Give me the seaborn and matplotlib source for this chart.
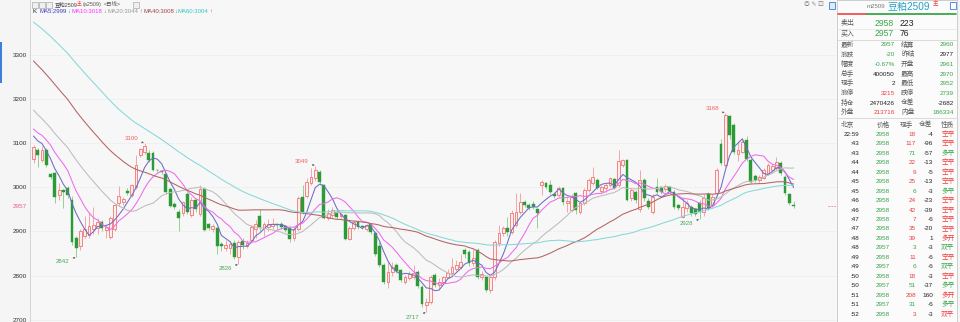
import numpy as np
import pandas as pd
import matplotlib
matplotlib.use("Agg")
import matplotlib.pyplot as plt
import matplotlib.transforms as mtransforms
from matplotlib.patches import Rectangle
from matplotlib.lines import Line2D
import seaborn as sns

# ---------------- data ----------------
# closes of the 59 sessions before the visible window (they feed the moving averages)
prior_closes = [
    3530, 3545, 3560, 3540, 3555, 3570, 3548, 3562, 3575, 3552,
    3540, 3565, 3558, 3536, 3548, 3560, 3542, 3530, 3545, 3539,
    3480, 3475, 3478, 3462, 3450, 3448, 3436, 3425, 3410, 3408,
    3395, 3380, 3372, 3360, 3348, 3355, 3330, 3322, 3310, 3296,
    3285, 3270, 3252, 3240, 3226, 3210, 3198, 3190, 3172, 3137,
    3160, 3142, 3155, 3138, 3145, 3128, 3115, 3130, 3115]

opens = [
    3065, 3084, 3062, 3084, 3029, 3032, 2983, 2993, 2998, 2972,
    2885, 2866, 2890, 2893, 2905, 2907, 2922, 2903, 2888, 2905,
    2965, 2967, 2992, 2982, 3001, 3073, 3080, 3077, 3078, 3040,
    3036, 3030, 2995, 2962, 2945, 2941, 2985, 2937, 2971, 2940,
    2997, 2917, 2905, 2907, 2872, 2862, 2863, 2873, 2843, 2878,
    2868, 2880, 2905, 2934, 2907, 2910, 2912, 2918, 2918, 2912,
    2907, 2885, 2905, 2978, 2980, 3009, 3020, 3035, 3005, 2930,
    2937, 2945, 2935, 2937, 2884, 2907, 2922, 2912, 2906, 2917,
    2896, 2868, 2824, 2785, 2808, 2824, 2813, 2786, 2795, 2797,
    2809, 2775, 2733, 2740, 2801, 2778, 2786, 2798, 2805, 2816,
    2820, 2858, 2854, 2828, 2858, 2797, 2797, 2767, 2797, 2873,
    2896, 2908, 2899, 2915, 2945, 2967, 2960, 2963, 2950, 3005,
    3009, 3005, 2984, 2982, 2998, 2965, 2948, 2986, 2945, 2964,
    2994, 3009, 3016, 2992, 2998, 3005, 3018, 3005, 3050, 3062,
    2975, 2990, 2950, 3016, 2970, 2945, 3001, 3000, 2995, 3000,
    2990, 2960, 2933, 2952, 2956, 2950, 2965, 2945, 2984, 2960,
    2986, 3099, 3050, 3161, 3140, 3075, 3081, 3107, 3062, 3025,
    3016, 3022, 3032, 3040, 3043, 3056, 3024, 2985, 2961]

closes = [
    3092, 3073, 3084, 3050, 3023, 2979, 2993, 2989, 2982, 2877,
    2862, 2900, 2905, 2913, 2915, 2922, 2908, 2910, 2930, 2960,
    2980, 2973, 2988, 3005, 3050, 3086, 3093, 3062, 3040, 3038,
    3034, 2990, 2958, 2956, 2930, 2967, 2945, 2971, 2950, 2997,
    2903, 2907, 2912, 2866, 2867, 2869, 2872, 2843, 2877, 2870,
    2873, 2911, 2918, 2911, 2917, 2918, 2917, 2914, 2910, 2903,
    2882, 2905, 2975, 2945, 3013, 3024, 3040, 3013, 2930, 2941,
    2948, 2933, 2940, 2884, 2907, 2922, 2911, 2910, 2914, 2899,
    2850, 2824, 2786, 2808, 2820, 2810, 2790, 2798, 2803, 2805,
    2777, 2735, 2741, 2797, 2779, 2785, 2797, 2806, 2820, 2824,
    2831, 2850, 2828, 2840, 2797, 2803, 2767, 2797, 2875, 2896,
    2907, 2899, 2941, 2945, 2967, 2960, 2952, 2956, 2941, 3013,
    3000, 2990, 2981, 2998, 2967, 2970, 2979, 2949, 2964, 2994,
    3016, 3024, 2998, 3001, 3005, 3020, 2998, 3060, 3062, 2971,
    2994, 2971, 3016, 2975, 2955, 2979, 2990, 2990, 3003, 2992,
    2956, 2952, 2956, 2965, 2941, 2940, 2945, 2975, 2952, 2979,
    3039, 3054, 3164, 3118, 3080, 3084, 3103, 3064, 3013, 3016,
    3024, 3040, 3050, 3048, 3058, 3032, 2986, 2964, 2957]

highs = [
    3096, 3088, 3093, 3090, 3032, 3035, 3010, 2996, 3002, 2980,
    2890, 2905, 2935, 2945, 2955, 2930, 2925, 2915, 2935, 2962,
    3003, 2978, 2998, 3008, 3073, 3090, 3100, 3085, 3082, 3042,
    3040, 3033, 2998, 2966, 2950, 2970, 2990, 2978, 2975, 3006,
    3000, 2920, 2918, 2910, 2877, 2880, 2878, 2880, 2880, 2885,
    2880, 2915, 2925, 2950, 2922, 2928, 2930, 2920, 2922, 2915,
    2910, 2910, 2980, 3005, 3020, 3043, 3049, 3040, 3008, 2950,
    2955, 2950, 2945, 2940, 2912, 2926, 2925, 2915, 2918, 2920,
    2900, 2875, 2828, 2830, 2830, 2828, 2816, 2802, 2810, 2825,
    2812, 2778, 2750, 2802, 2806, 2795, 2800, 2815, 2840, 2835,
    2850, 2862, 2858, 2860, 2862, 2810, 2800, 2800, 2880, 2915,
    2912, 2933, 2948, 2986, 2986, 2972, 2964, 2970, 2954, 3017,
    3012, 3016, 2990, 3002, 3001, 2975, 2984, 2990, 2966, 2998,
    3020, 3047, 3020, 3005, 3010, 3023, 3020, 3084, 3064, 3064,
    2998, 2994, 3039, 3020, 2975, 2985, 3020, 3003, 3008, 3003,
    2994, 2962, 2977, 2971, 2960, 2953, 2971, 2985, 2990, 2985,
    3043, 3110, 3168, 3163, 3145, 3105, 3108, 3115, 3066, 3030,
    3028, 3044, 3055, 3052, 3068, 3060, 3028, 2988, 2970]

lows = [
    3054, 3045, 3058, 3045, 3018, 2965, 2971, 2952, 2975, 2870,
    2842, 2858, 2885, 2885, 2895, 2895, 2900, 2885, 2882, 2900,
    2958, 2960, 2982, 2978, 2996, 3068, 3075, 3058, 3036, 3035,
    3030, 2985, 2955, 2950, 2900, 2935, 2940, 2933, 2945, 2935,
    2900, 2903, 2898, 2850, 2855, 2855, 2850, 2838, 2826, 2860,
    2862, 2875, 2885, 2900, 2890, 2900, 2905, 2905, 2905, 2898,
    2877, 2878, 2900, 2940, 2975, 3005, 3015, 3005, 2928, 2925,
    2930, 2928, 2928, 2880, 2880, 2903, 2905, 2905, 2900, 2895,
    2845, 2820, 2780, 2772, 2800, 2805, 2785, 2780, 2790, 2792,
    2772, 2728, 2717, 2735, 2775, 2770, 2780, 2795, 2800, 2810,
    2815, 2840, 2822, 2822, 2792, 2790, 2762, 2760, 2790, 2868,
    2890, 2890, 2895, 2910, 2940, 2955, 2948, 2950, 2907, 2982,
    2995, 2985, 2975, 2978, 2960, 2945, 2945, 2940, 2940, 2960,
    2990, 3005, 2995, 2988, 2990, 3000, 2995, 3000, 3045, 2968,
    2970, 2965, 2945, 2970, 2950, 2940, 2985, 2985, 2990, 2985,
    2950, 2948, 2930, 2945, 2935, 2935, 2928, 2935, 2948, 2955,
    2980, 3050, 3045, 3110, 3075, 3060, 3078, 3060, 3010, 3012,
    3010, 3018, 3028, 3035, 3040, 3028, 2982, 2960, 2952]

ma_periods = [5, 10, 20, 40, 60]
ma_colors = {"MA5": "#6c6cc8", "MA10": "#ee6aee", "MA20": "#bcbcbc",
             "MA40": "#b46262", "MA60": "#86d8d8"}
y_ticks = [2700, 2800, 2900, 3000, 3100, 3200, 3300]
last_price = 2957

# extreme markers: (candle index, price, kind)
extremes = [(26, 3100, "high"), (10, 2842, "low"), (48, 2826, "low"),
            (66, 3049, "high"), (92, 2717, "low"), (156, 2928, "low"),
            (162, 3168, "high")]

# header
header_ma = [("MA5:2999", "#3a3acc", "↓"), ("MA10:3018", "#ff33ff", "↓"),
             ("MA20:3044", "#999999", "↑"), ("MA40:3008", "#a04444", "↓"),
             ("MA60:3004", "#33c6c6", "↑")]
header_ma_x = [39, 72, 108, 143, 178]
header_arrow_x = [67, 103.5, 139.5, 174.5, 209.5]

# side panel
quote_rows = [("卖出", "2958", "223"), ("买入", "2957", "76")]
stat_labels_l = ["最新", "涨跌", "幅度", "总手", "现手", "涨停", "持仓", "外盘"]
stat_values_l = ["2957", "-20", "-0.67%", "400050", "2", "3215", "2470426", "213716"]
stat_colors_l = ["g", "g", "g", "k", "k", "r", "k", "r"]
stat_labels_r = ["结算", "昨结", "开盘", "最高", "最低", "跌停", "仓差", "内盘"]
stat_values_r = ["2960", "2977", "2961", "2970", "2952", "2739", "-2682", "186334"]
stat_colors_r = ["g", "k", "g", "g", "g", "g", "k", "g"]

tick_header = ["北京", "价格", "现手", "仓差", "性质"]
tick_times = ["22:59", ":43", ":43", ":44", ":44", ":45", ":45", ":46", ":46", ":47",
              ":47", ":48", ":48", ":49", ":49", ":50", ":50", ":51", ":51", ":52"]
tick_prices = [2958, 2958, 2958, 2958, 2958, 2958, 2958, 2958, 2958, 2958,
               2958, 2958, 2957, 2958, 2957, 2958, 2957, 2958, 2957, 2958]
tick_vols = [18, 117, 71, 22, 9, 25, 6, 24, 42, 7, 35, 39, 3, 11, 6, 18, 51, 208, 31, 3]
tick_oi = [-4, -96, -57, -13, -5, -13, -3, -23, -39, -6, -20, 1, -3, -6, -6, -3, -37, 160, -6, -3]
tick_kind = ["空平", "空平", "多平", "空平", "空平", "空平", "多平", "空平", "空平", "空平",
             "空平", "多开", "双平", "空平", "双平", "空平", "多平", "多开", "多平", "双平"]
tick_color = ["r", "r", "g", "r", "r", "r", "g", "r", "r", "r",
              "r", "r", "g", "r", "g", "r", "g", "r", "g", "r"]

# ---------------- style ----------------
sns.set_style("white")
plt.rcParams["font.family"] = ["Liberation Sans", "Noto Sans CJK SC", "DejaVu Sans"]
plt.rcParams["axes.unicode_minus"] = False

RED, GREEN, BLACK, GRAYT = "#f03c3c", "#3aa54a", "#222222", "#5a5a5a"
cmap = {"r": RED, "g": GREEN, "k": BLACK}

W, H = 960, 322
fig = plt.figure(figsize=(9.6, 3.22), dpi=100)
fig.patch.set_facecolor("#f5f5f5")


def fx(x):
    return x / W


def fy(y):
    return 1 - y / H


def T(x, y, s, color=BLACK, size=4.8, ha="left", va="center", **kw):
    fig.text(fx(x), fy(y), s, color=color, fontsize=size, ha=ha, va=va, **kw)


# ---------------- main chart ----------------
ax = fig.add_axes([fx(30), 0, fx(837) - fx(30), 1])
ax.set_facecolor("#f7f7f7")
n = len(closes)
idx = np.arange(n)
o = np.array(opens, float)
c = np.array(closes, float)
hi = np.array(highs, float)
lo = np.array(lows, float)
up = c >= o
body_lo = np.minimum(o, c)
body_h = np.maximum(np.abs(c - o), 1.6)

ax.vlines(idx[up], lo[up], hi[up], color="#f49a9a", lw=0.6, zorder=2)
ax.vlines(idx[~up], lo[~up], hi[~up], color="#86c986", lw=0.6, zorder=2)
ax.bar(idx[up], body_h[up], bottom=body_lo[up], width=0.66, color="#fdeeee",
       edgecolor="#f27474", linewidth=0.6, zorder=3)
ax.bar(idx[~up], body_h[~up], bottom=body_lo[~up], width=0.66, color="#2c9a36",
       edgecolor="#2c9a36", linewidth=0.3, zorder=3)

full = pd.Series(prior_closes + closes, dtype=float)
ma_df = pd.DataFrame({f"MA{p}": full.rolling(p).mean().iloc[len(prior_closes):].to_numpy()
                      for p in ma_periods})
ma_df["idx"] = idx
ma_long = ma_df.melt(id_vars="idx", var_name="ma", value_name="value")
sns.lineplot(data=ma_long, x="idx", y="value", hue="ma", palette=ma_colors,
             hue_order=list(ma_colors), linewidth=0.75, legend=False, ax=ax,
             estimator=None, zorder=4)

ax.set_xlim(-0.82, 188.17)
ax.set_ylim(2695, 3424)
ax.set_yticks(y_ticks)
ax.set_yticklabels([str(v) for v in y_ticks])
ax.tick_params(axis="y", length=0, pad=2.2, labelsize=4.6, labelcolor="#333333")
ax.tick_params(axis="x", bottom=False, labelbottom=False)
ax.set_xlabel("")
ax.set_ylabel("")
ax.grid(axis="y", color="#d9d9d9", lw=0.5, ls=(0, (1, 2)))
ax.grid(axis="x", visible=False)
for side in ["top", "right", "bottom"]:
    ax.spines[side].set_visible(False)
ax.spines["left"].set_color("#cfcfcf")
ax.spines["left"].set_linewidth(0.6)

blend = mtransforms.blended_transform_factory(ax.transAxes, ax.transData)
ax.text(-0.0045, last_price, str(last_price), transform=blend, ha="right", va="center",
        color="#ee5a9a", fontsize=4.6)
ax.hlines(last_price, 186.0, 188.1, colors="#ee77aa", lw=0.6, ls=(0, (2, 1.5)), zorder=5)

for i, p, kind in extremes:
    col = "#f06464" if kind == "high" else "#4aa85a"
    dy = 3.0 if kind == "high" else -3.4
    ax.annotate(str(p), xy=(i, p), xytext=(-4.6, dy), textcoords="offset points",
                ha="right", va="center", fontsize=4.4, color=col,
                arrowprops=dict(arrowstyle="-|>", color="#666666", lw=0.4,
                                mutation_scale=2.5, shrinkA=0, shrinkB=0.5),
                zorder=6)

# header text (inside chart)
for xx in [32, 39, 46]:
    fig.add_artist(Rectangle((fx(xx), fy(8)), fx(6), 6 / H, transform=fig.transFigure,
                             facecolor="#f0f0f0", edgecolor="#9a9a9a", lw=0.4))
T(55, 4.3, "豆粕2509", color="#444444", size=3.9)
T(77, 3.6, "主", color=RED, size=3.5)
T(83, 4.3, "(a2509)", color="#555555", size=3.9)
T(104, 4.3, "<日线>", color="#555555", size=3.9)
fig.add_artist(Rectangle((fx(133), fy(8)), fx(6), 6 / H, transform=fig.transFigure,
                         facecolor="#f0f0f0", edgecolor="#9a9a9a", lw=0.4))
T(32.5, 11.2, "K", color=BLACK, size=4.3)
for (lab, col, arr), xx, ax_x in zip(header_ma, header_ma_x, header_arrow_x):
    T(xx, 11.2, lab, color=col, size=4.3)
    T(ax_x, 11.2, arr, color=GREEN if arr == "↓" else RED, size=4.0)

# small icons top-right of the chart
T(804, 4.5, "◎ ✎ ▥", color="#8a8a8a", size=4.2)
fig.add_artist(Rectangle((fx(829), fy(9)), fx(6), 7 / H, transform=fig.transFigure,
                         facecolor="#dfeaf8", edgecolor="#3b7ddb", lw=0.6))
# blue marker on the left edge
fig.add_artist(Rectangle((0, fy(83)), fx(2), 41 / H, transform=fig.transFigure,
                         facecolor="#3f7fd9", edgecolor="none"))

# ---------------- side panel ----------------
fig.add_artist(Rectangle((fx(837), 0), fx(957) - fx(837), 1, transform=fig.transFigure,
                         facecolor="#fbfbfb", edgecolor="#c6c6c6", lw=0.6))
T(867, 6.3, "m2509", color="#7a7a7a", size=4.4)
T(887, 6.5, "豆粕2509", color="#23a3c9", size=7.2)
T(932.5, 3.6, "主", color=RED, size=4.0)
fig.add_artist(Rectangle((fx(950), fy(9)), fx(6), 7 / H, transform=fig.transFigure,
                         facecolor="#ffffff", edgecolor="#3b7ddb", lw=0.6))
fig.add_artist(Line2D([fx(838), fx(867)], [fy(14), fy(14)], transform=fig.transFigure,
                      color="#f05050", lw=1.3))
fig.add_artist(Line2D([fx(867), fx(956)], [fy(14), fy(14)], transform=fig.transFigure,
                      color="#3aa54a", lw=1.3))

for k, (lab, price, vol) in enumerate(quote_rows):
    yy = 23 + 11 * k
    T(841, yy, lab, color=GRAYT, size=5.0)
    T(875, yy, price, color=GREEN, size=6.2)
    T(900, yy, vol, color=BLACK, size=6.2)
for yy, col in [(28.5, "#e2e2e2"), (40, "#cccccc"), (118, "#cccccc")]:
    fig.add_artist(Line2D([fx(838), fx(956)], [fy(yy), fy(yy)], transform=fig.transFigure,
                          color=col, lw=0.5))

for k in range(len(stat_labels_l)):
    yy = 45 + 9.7 * k
    T(841, yy, stat_labels_l[k], color=GRAYT, size=4.8)
    T(895, yy, stat_values_l[k], color=cmap[stat_colors_l[k]], size=4.6, ha="right")
    T(901, yy, stat_labels_r[k], color=GRAYT, size=4.8)
    T(954, yy, stat_values_r[k], color=cmap[stat_colors_r[k]], size=4.6, ha="right")

hdr_x = [841, 877, 900, 919, 941]
for xx, lab in zip(hdr_x, tick_header):
    T(xx, 125, lab, color=GRAYT, size=4.8)
for k in range(len(tick_times)):
    yy = 134.3 + 9.47 * k
    T(859, yy, tick_times[k], color=BLACK, size=4.5, ha="right")
    T(890, yy, str(tick_prices[k]), color=GREEN, size=4.6, ha="right")
    T(916, yy, str(tick_vols[k]), color=cmap[tick_color[k]], size=4.6, ha="right")
    T(933, yy, str(tick_oi[k]), color=BLACK, size=4.6, ha="right")
    T(941, yy, tick_kind[k], color=cmap[tick_color[k]], size=4.8)

fig.savefig("out.png", dpi=100, facecolor=fig.get_facecolor())
